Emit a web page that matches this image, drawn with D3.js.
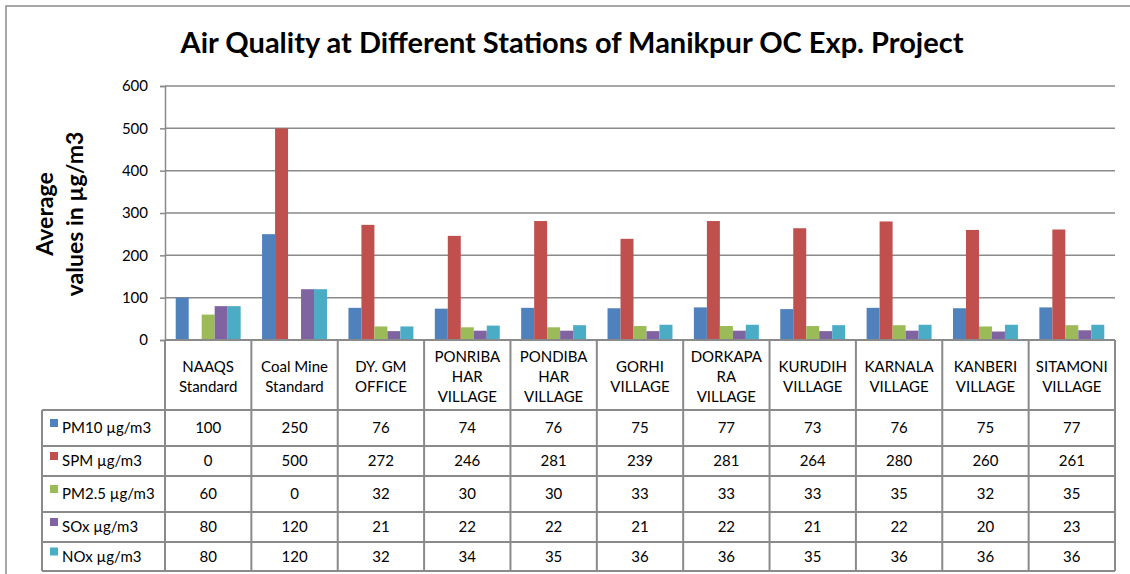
<!DOCTYPE html>
<html>
<head>
<meta charset="UTF-8">
<title>Air Quality</title>
<style>
  body { margin: 0; background: #fff; }
  svg { display: block; font-family: Lato, "Open Sans", sans-serif; }
  .grid line { stroke: #8a8a8a; stroke-width: 1.5px; }
  .tbl line { stroke: #8a8a8a; stroke-width: 2px; }
</style>
</head>
<body>
<svg id="chart" width="1130" height="574"></svg>
<script src="https://cdn.jsdelivr.net/npm/d3@7"></script>
<script>
  "use strict";

  var stations = ["NAAQS|Standard", "Coal Mine|Standard", "DY. GM|OFFICE", "PONRIBA|HAR|VILLAGE",
    "PONDIBA|HAR|VILLAGE", "GORHI|VILLAGE", "DORKAPA|RA|VILLAGE", "KURUDIH|VILLAGE",
    "KARNALA|VILLAGE", "KANBERI|VILLAGE", "SITAMONI|VILLAGE"];
  var seriesNames = ["PM10 µg/m3", "SPM µg/m3", "PM2.5 µg/m3", "SOx µg/m3", "NOx µg/m3"];
  var pm10 = [100, 250, 76, 74, 76, 75, 77, 73, 76, 75, 77];
  var spm  = [0, 500, 272, 246, 281, 239, 281, 264, 280, 260, 261];
  var pm25 = [60, 0, 32, 30, 30, 33, 33, 33, 35, 32, 35];
  var sox  = [80, 120, 21, 22, 22, 21, 22, 21, 22, 20, 23];
  var nox  = [80, 120, 32, 34, 35, 36, 36, 35, 36, 36, 36];
  var yTicks = [0, 100, 200, 300, 400, 500, 600];
  var colors = ["#4f81bd", "#c0504d", "#9bbb59", "#8064a2", "#4bacc6"];

  var values = [pm10, spm, pm25, sox, nox];

  var svg = d3.select("#chart");
  var plotLeft = 165, plotRight = 1115, plotTop = 86, plotBottom = 340;

  // outer frame
  svg.append("rect").attr("x", 6).attr("y", 6).attr("width", 1140).attr("height", 580)
    .attr("fill", "none").attr("stroke", "#8a8a8a").attr("stroke-width", 1.5);

  svg.append("text").attr("x", 572).attr("y", 53).attr("text-anchor", "middle")
    .attr("font-size", 29).attr("font-weight", "bold")
    .text("Air Quality at Different Stations of Manikpur OC Exp. Project");

  var x0 = d3.scaleBand().domain(d3.range(stations.length)).range([plotLeft, plotRight]);
  var bw = x0.bandwidth();
  var x1 = d3.scaleBand().domain(d3.range(seriesNames.length)).range([bw * 0.124, bw * 0.876]);
  var y = d3.scaleLinear().domain([0, 600]).range([plotBottom, plotTop]);

  // gridlines
  svg.append("g").attr("class", "grid").selectAll("line").data(yTicks.slice(1)).enter()
    .append("line").attr("x1", plotLeft).attr("x2", plotRight)
    .attr("y1", function(d){ return y(d); }).attr("y2", function(d){ return y(d); });

  var yAxis = svg.append("g").attr("transform", "translate(" + plotLeft + ",0)")
    .call(d3.axisLeft(y).tickValues(yTicks).tickSize(5).tickPadding(12));
  yAxis.select(".domain").attr("stroke", "#8a8a8a").attr("stroke-width", 1.5);
  yAxis.selectAll(".tick line").attr("stroke", "#8a8a8a").attr("stroke-width", 1.5);
  yAxis.selectAll("text").attr("font-size", 15).attr("font-family", "Lato").attr("fill", "#000");

  var yt = svg.append("text").attr("transform", "translate(68,214) rotate(-90)")
    .attr("text-anchor", "middle").attr("font-size", 23).attr("font-weight", "bold");
  yt.append("tspan").attr("x", 0).attr("dy", -15).text("Average");
  yt.append("tspan").attr("x", 0).attr("dy", 30).text("values in µg/m3");

  // bars
  var groups = svg.append("g").selectAll("g").data(values).enter().append("g")
    .attr("fill", function(d, i){ return colors[i]; });
  groups.each(function(series, si){
    d3.select(this).selectAll("rect").data(series).enter().append("rect")
      .attr("x", function(d, i){ return x0(i) + x1(si); })
      .attr("y", function(d){ return y(d); })
      .attr("width", x1.bandwidth())
      .attr("height", function(d){ return plotBottom - y(d); });
  });

  // data table
  var rowEdges = [plotBottom, 410, 446, 476, 512, 542, 571];
  var tableLeft = 42;
  var tbl = svg.append("g").attr("class", "tbl");
  rowEdges.forEach(function(ry, i){
    tbl.append("line").attr("x1", i === 0 ? plotLeft : tableLeft).attr("x2", plotRight).attr("y1", ry).attr("y2", ry);
  });
  d3.range(stations.length + 1).forEach(function(i){
    var cx = i < stations.length ? x0(i) : plotRight;
    tbl.append("line").attr("x1", cx).attr("x2", cx).attr("y1", plotBottom).attr("y2", rowEdges[6]);
  });
  tbl.append("line").attr("x1", tableLeft).attr("x2", tableLeft).attr("y1", rowEdges[1]).attr("y2", rowEdges[6]);

  // header labels
  stations.forEach(function(s, i){
    var lines = s.split("|");
    var t = svg.append("text").attr("text-anchor", "middle").attr("font-size", 15);
    lines.forEach(function(l, k){
      t.append("tspan").attr("x", x0(i) + bw / 2)
        .attr("y", 382 + (k - (lines.length - 1) / 2) * 20).text(l);
    });
  });

  // rows
  seriesNames.forEach(function(name, si){
    var cy = (rowEdges[si + 1] + rowEdges[si + 2]) / 2 + 5;
    svg.append("rect").attr("x", 50).attr("y", cy - 14).attr("width", 8).attr("height", 8).attr("fill", colors[si]);
    svg.append("text").attr("x", 62).attr("y", cy).attr("font-size", 15).text(name);
    values[si].forEach(function(v, i){
      svg.append("text").attr("x", x0(i) + bw / 2).attr("y", cy).attr("text-anchor", "middle")
        .attr("font-size", 15).text(v);
    });
  });
</script>
</body>
</html>
